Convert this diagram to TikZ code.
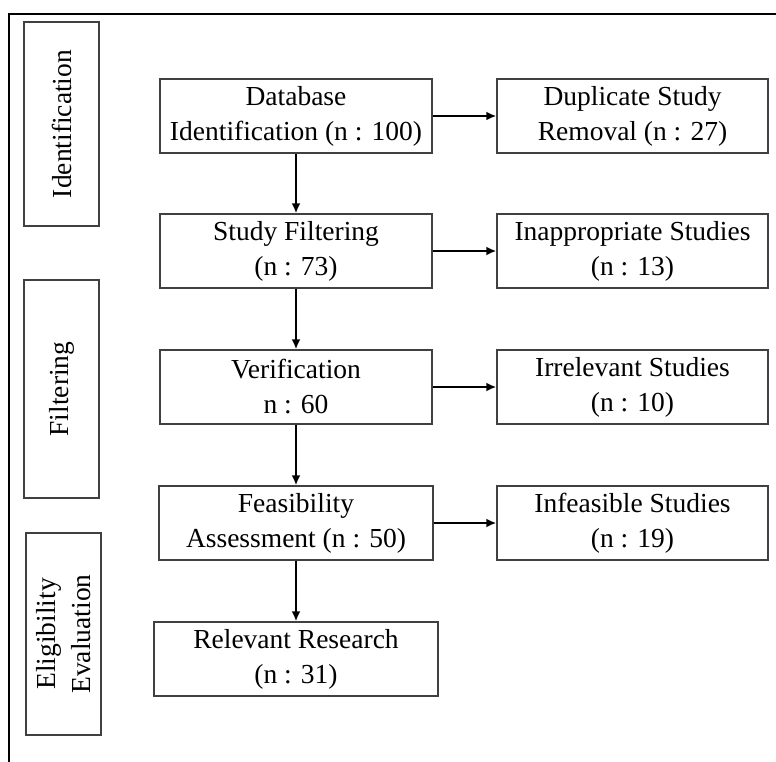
\documentclass[tikz,border=0pt]{standalone}
\usepackage{fontspec}
\setmainfont{Liberation Serif}
\usepackage{tikz}
\usetikzlibrary{arrows.meta}

\begin{document}
\begin{tikzpicture}[x=1pt, y=-1pt,
  box/.style={draw=black!75, line width=1.4pt, minimum width=272pt, minimum height=74pt, inner sep=0pt, align=center,
    font=\fontsize{27.5}{35}\selectfont},
  phase/.style={box, rotate=90, minimum height=75pt},
  flow/.style={line width=2.8pt, -{Latex[length=10pt,width=9pt]}}]
\useasboundingbox (0,0) rectangle (776,762);
\draw[line width=2.6pt] (9,780) -- (9,14) -- (790,14);
\node[phase, minimum width=204pt] (idlab) at (61.5,124) {Identification};
\node[phase, minimum width=218pt] (filtlab) at (61.5,389) {Filtering};
\node[phase, minimum width=202pt] (eliglab) at (63.5,634) {Eligibility\\Evaluation};
\node[box] (db) at (296,116) {Database\\Identification (n : 100)};
\node[box, minimum width=271pt] (dup) at (632.5,116) {Duplicate Study\\Removal (n : 27)};
\node[box] (filt) at (296,251) {Study Filtering\\(n : 73)};
\node[box, minimum width=271pt] (inapp) at (632.5,251) {Inappropriate Studies\\(n : 13)};
\node[box] (verif) at (296,387) {Verification\\n : 60};
\node[box, minimum width=271pt] (irrel) at (632.5,387) {Irrelevant Studies\\(n : 10)};
\node[box, minimum width=274pt] (feas) at (296,523) {Feasibility\\Assessment (n : 50)};
\node[box, minimum width=271pt] (infeas) at (632.5,523) {Infeasible Studies\\(n : 19)};
\node[box, minimum width=284pt] (rel) at (296,659) {Relevant Research\\(n : 31)};
\draw[flow] (db) -- (dup);
\draw[flow] (filt) -- (inapp);
\draw[flow] (verif) -- (irrel);
\draw[flow] (feas) -- (infeas);
\draw[flow] (db) -- (filt);
\draw[flow] (filt) -- (verif);
\draw[flow] (verif) -- (feas);
\draw[flow] (feas) -- (rel);
\end{tikzpicture}
\end{document}
